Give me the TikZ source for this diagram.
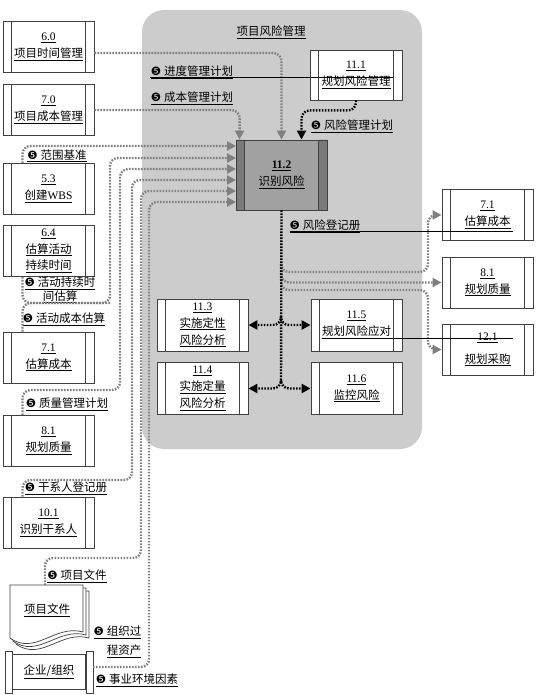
\documentclass[tikz,border=0pt]{standalone}
\usepackage{fontspec}
\setmainfont{Liberation Serif}
\newfontfamily\cjk{Noto Sans CJK SC}
\newfontfamily\dingfont{DejaVu Sans}
\usetikzlibrary{arrows.meta}
\newcommand{\zh}[1]{{\cjk #1}}
\newcommand{\uzh}[1]{\underline{\cjk #1}}
\newcommand{\inmark}{{\dingfont\char"277A}}
\newcommand{\flowlabel}[1]{\underline{\inmark\ \zh{#1}}}
\begin{document}
\begin{tikzpicture}[x=1pt, y=-1pt, font=\fontsize{11.5}{17}\selectfont,
    proc/.style={draw=black!75, line width=0.9pt, fill=white, align=center, inner sep=1pt,
      minimum width=91pt, minimum height=51pt,
      path picture={\draw[black!75, line width=0.9pt]
        ([xshift=8.5pt]path picture bounding box.north west) -- ([xshift=8.5pt]path picture bounding box.south west)
        ([xshift=-8.5pt]path picture bounding box.north east) -- ([xshift=-8.5pt]path picture bounding box.south east);}},
    keyproc/.style={proc, fill=black!37, minimum height=70pt,
      path picture={\fill[black!52]
        (path picture bounding box.north west) rectangle ([xshift=8.5pt]path picture bounding box.south west)
        ([xshift=-8.5pt]path picture bounding box.north east) rectangle (path picture bounding box.south east);
        \draw[black!75, line width=0.9pt]
        ([xshift=8.5pt]path picture bounding box.north west) -- ([xshift=8.5pt]path picture bounding box.south west)
        ([xshift=-8.5pt]path picture bounding box.north east) -- ([xshift=-8.5pt]path picture bounding box.south east);}},
    lbl/.style={inner sep=0.5pt, align=center},
    boxline/.style={draw=black!75, line width=0.9pt},
    inflow/.style={black!50, line width=2.4pt, dash pattern=on 1.6pt off 1.4pt, rounded corners=8pt,
      -{Triangle[length=9pt, width=9pt]}},
    riskline/.style={black, line width=2.4pt, dash pattern=on 1.6pt off 1.4pt, rounded corners=8pt},
    riskflow/.style={riskline, -{Triangle[length=9pt, width=9pt]}},
    strike/.style={black, line width=0.7pt}]
\useasboundingbox (0,0) rectangle (537,695);

\node[fill=black!20, rounded corners=22pt, minimum width=280pt, minimum height=439pt, inner sep=0] (grp) at (282,229.5) {};
\node[lbl] (title) at (271,32) {\uzh{项目风险管理}};

\node[proc] (t60) at (48.5,47) {\underline{6.0}\\\uzh{项目时间管理}};
\node[proc] (t70) at (48.5,110) {\underline{7.0}\\\uzh{项目成本管理}};
\node[proc] (t53) at (48.5,189) {\underline{5.3}\\\underline{\zh{创建}WBS}};
\node[proc, font=\fontsize{11.5}{16.5}\selectfont] (t64) at (48.5,251) {\underline{6.4}\\\uzh{估算活动}\\\uzh{持续时间}};
\node[proc] (t71) at (48.5,357.5) {\underline{7.1}\\\uzh{估算成本}};
\node[proc] (t81) at (48.5,441) {\underline{8.1}\\\uzh{规划质量}};
\node[proc] (t101) at (48.5,522.5) {\underline{10.1}\\\uzh{识别干系人}};

\foreach \d in {6,3,0}
  \draw[boxline, line width=0.7pt, fill=white] (10+\d,585+\d) -- (83+\d,585+\d) -- (83+\d,632+\d)
    .. controls (55+\d,624+\d) and (35+\d,656+\d) .. (10+\d,638+\d) -- cycle;
\node[lbl] (docs) at (47,610) {\uzh{项目文件}};
\coordinate (docstop) at (45,585);

\node[boxline, fill=white, minimum width=73pt, minimum height=35pt, inner sep=0] (org) at (49,672) {\uzh{企业/组织}};
\draw[boxline, fill=white] ([xshift=-7pt,yshift=3pt]org.north west) rectangle ([yshift=-3pt]org.south west);
\draw[boxline, fill=white] ([yshift=3pt]org.north east) rectangle ([xshift=7pt,yshift=-3pt]org.south east);
\coordinate (orgout) at (93,667);

\node[proc, minimum width=92pt, minimum height=50pt] (r111) at (356,75) {\underline{11.1}\\\uzh{规划风险管理}};
\node[keyproc] (r112) at (281.5,175) {\textbf{\underline{11.2}}\\\uzh{识别风险}};
\node[proc, minimum height=52pt] (r113) at (202.5,325) {\underline{11.3}\\\uzh{实施定性}\\\uzh{风险分析}};
\node[proc, minimum height=52pt] (r114) at (202.5,388.5) {\underline{11.4}\\\uzh{实施定量}\\\uzh{风险分析}};
\node[proc, minimum height=52pt] (r115) at (356.5,325) {\underline{11.5}\\\uzh{规划风险应对}};
\node[proc, minimum height=52pt] (r116) at (356.5,388.5) {\underline{11.6}\\\uzh{监控风险}};

\node[proc] (o71) at (487.5,215) {\underline{7.1}\\\uzh{估算成本}};
\node[proc] (o81) at (487.5,282.5) {\underline{8.1}\\\uzh{规划质量}};
\node[proc] (o121) at (487.5,349.5) {\underline{12.1}\\[6pt]\uzh{规划采购}};

\node[lbl] (lsched) at (192,72) {\flowlabel{进度管理计划}};
\node[lbl] (lcost) at (192,98) {\flowlabel{成本管理计划}};
\node[lbl] (lrmp) at (352,126) {\flowlabel{风险管理计划}};
\node[lbl] (lscope) at (57,156) {\flowlabel{范围基准}};
\node[lbl] (ldur) at (60,290) {\underline{\inmark\ \zh{活动持续时}}\\[-3pt]\uzh{间估算}};
\node[lbl] (lacost) at (64,319) {\flowlabel{活动成本估算}};
\node[lbl] (lqual) at (67,404) {\flowlabel{质量管理计划}};
\node[lbl] (lstake) at (66,488) {\flowlabel{干系人登记册}};
\node[lbl] (ldocs) at (77,576) {\flowlabel{项目文件}};
\node[lbl, align=right, anchor=east] (lopa) at (142,642) {\underline{\inmark\ \zh{组织过}}\\[2pt]\uzh{程资产}};
\node[lbl] (leef) at (137,680) {\flowlabel{事业环境因素}};
\node[lbl] (lreg) at (325,226) {\flowlabel{风险登记册}};

\coordinate (in1) at (236,146);
\coordinate (in2) at (236,158);
\coordinate (in3) at (236,169);
\coordinate (in4) at (236,180);
\coordinate (in5) at (236,191);
\coordinate (in6) at (236,202);
\coordinate (j2) at (110,303);

\draw[inflow] ([yshift=-6pt]t60.east) -| (r112.north);
\draw[inflow] (t70.east) -| ([xshift=4pt]r112.north west);
\draw[inflow] ([xshift=-26pt]t53.north) |- (in1);
\draw[inflow] ([xshift=-26pt]t64.south) |- (j2) |- (in2);
\draw[inflow, -] ([xshift=-26pt]t71.north) |- (j2);
\draw[inflow] ([xshift=-26pt]t81.north) |- (120,390) |- (in3);
\draw[inflow] ([xshift=-26pt]t101.north) |- (132,480) |- (in4);
\draw[inflow] (docstop) |- (141,558) |- (in5);
\draw[inflow] (orgout) -- (149,667) |- (in6);

\draw[riskflow] (r111.south) -- ++(0,10) -| ([xshift=20pt]r112.north);

\coordinate (tap) at (281,264);
\draw[inflow] (tap) |- (428,272) |- (o71.west);
\draw[inflow] (tap) |- (o81.west);
\draw[inflow] (tap) |- (428,290) |- (o121.west);

\coordinate (b1) at (281,318);
\coordinate (b2) at (281,382);
\draw[riskline] (r112.south) -- (b2);
\draw[riskflow] (b1) |- (r113.east);
\draw[riskflow] (b1) |- (r115.west);
\draw[riskflow] (b2) |- (r114.east);
\draw[riskflow] (b2) |- (r116.west);

\draw[strike] (150,77) -- (393,77);
\draw[strike] (290,231) -- (513,231);
\draw[strike] (322,338) -- (513,338);
\end{tikzpicture}
\end{document}
